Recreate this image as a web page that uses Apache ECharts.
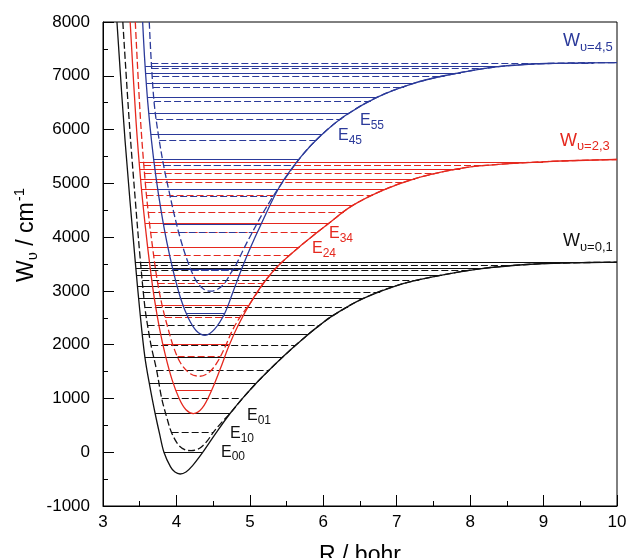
<!DOCTYPE html>
<html><head><meta charset="utf-8">
<script src="https://cdn.jsdelivr.net/npm/echarts@6/dist/echarts.min.js"></script>
<style>html,body{margin:0;padding:0;background:#fff}#c{width:628px;height:558px}</style>
</head><body><div id="c"></div>
<script>
// ---- data: potential curves [R (bohr), W (cm^-1)] ----
const W0 = [[3.19,8000],[3.30,5800],[3.44,3535],[3.50,2650],[3.57,1772],[3.64,1210],[3.71,720],[3.77,345],[3.83,0],[3.92,-272],[3.98,-369],[4.05,-405],[4.13,-367],[4.22,-250],[4.36,0],[4.54,360],[4.73,720],[4.90,1000],[5.07,1260],[5.25,1510],[5.44,1760],[5.6,1960],[5.75,2140],[5.93,2340],[6.13,2540],[6.53,2850],[7.0,3100],[7.49,3260],[8.13,3410],[8.82,3495],[9.4,3522],[10,3535]];
const W1own = [[3.27,8000],[3.36,6100],[3.44,4686],[3.50,3700],[3.57,2702],[3.62,2250],[3.66,1950],[3.73,1525],[3.80,998],[3.87,640],[3.93,378],[4.03,130],[4.12,45],[4.20,30],[4.28,50],[4.34,99],[4.42,210],[4.50,366],[4.62,560]];
const W2 = [[3.37,8000],[3.45,6150],[3.52,4950],[3.58,4150],[3.64,3450],[3.70,2850],[3.77,2300],[3.85,1800],[3.94,1350],[4.04,990],[4.13,790],[4.23,719],[4.35,819],[4.48,1153],[4.60,1560],[4.71,1960],[4.83,2330],[5.0,2760],[5.2,3170],[5.41,3500],[5.72,3870],[6.05,4230],[6.39,4580],[6.8,4865],[7.22,5075],[7.7,5235],[8.13,5325],[9.05,5405],[10,5443]];
const W3own = [[3.44,8000],[3.51,6200],[3.58,4950],[3.63,4300],[3.68,3760],[3.74,3180],[3.81,2700],[3.88,2330],[3.96,1960],[4.06,1650],[4.19,1460],[4.32,1413],[4.44,1480],[4.55,1660],[4.66,1950],[4.76,2260],[4.87,2520]];
const W4 = [[3.54,8000],[3.57,7250],[3.61,6500],[3.66,5800],[3.72,5130],[3.79,4500],[3.87,3900],[3.96,3350],[4.06,2850],[4.16,2500],[4.27,2260],[4.39,2175],[4.52,2290],[4.66,2590],[4.77,2980],[4.88,3380],[5.0,3780],[5.15,4230],[5.41,4950],[5.7,5500],[5.96,5880],[6.3,6260],[6.73,6600],[7.22,6856],[7.68,7010],[8.36,7166],[9.04,7228],[10,7246]];
const W5own = [[3.63,8000],[3.66,7200],[3.70,6450],[3.76,5850],[3.83,5300],[3.90,4850],[3.97,4420],[4.05,3990],[4.15,3560],[4.26,3210],[4.36,3045],[4.46,2994],[4.56,3030],[4.66,3150],[4.74,3330],[4.82,3509],[4.93,3818],[5.05,4130],[5.2,4500]];
// dashed curves join the solid ones on their outer branch
const W1 = W1own.concat(W0.filter(p => p[0] >= 4.73));
const W3 = W3own.concat(W2.filter(p => p[0] >= 5.0));
const W5 = W5own.concat(W4.filter(p => p[0] >= 5.41));

// ---- vibrational levels (cm^-1) ----
const lev0 = [0, 720, 1277, 1772, 2194, 2547, 2857, 3080, 3290, 3415, 3535];
const lev1 = [366, 998, 1525, 1980, 2361, 2702, 2981, 3198, 3384, 3477];
const lev2 = [1153, 2006, 2733, 3291, 3818, 4253, 4593, 4885, 5085, 5270, 5400];
const lev3 = [1785, 2516, 3137, 3663, 4097, 4469, 4779, 5020, 5180, 5330];
const lev4 = [2590, 3400, 4230, 4890, 5443, 5907, 6298, 6600, 6860, 7054, 7170];
const lev5 = [3380, 4097, 4760, 5330, 5801, 6200, 6535, 6794, 7000, 7135, 7240];

const xTicks = [3, 4, 5, 6, 7, 8, 9, 10];
const yTicks = [-1000, 0, 1000, 2000, 3000, 4000, 5000, 6000, 7000, 8000];

const FONT = '"Liberation Sans", Arial, Helvetica, sans-serif';
const BLACK = '#111111', RED = '#E5281E', BLUE = '#2B3A9A';

// annotation texts: [main, subscript, color, left px, cap-centre px, main size, sub size]
const labels = [
  ['W', 'υ=4,5', BLUE, 563, 41.5, 18, 13],
  ['W', 'υ=2,3', RED, 560, 141, 18, 13],
  ['W', 'υ=0,1', BLACK, 563, 241.5, 18, 13],
  ['E', '55', BLUE, 360, 121, 16, 12],
  ['E', '45', BLUE, 338, 136, 16, 12],
  ['E', '34', RED, 329, 234, 16, 12],
  ['E', '24', RED, 312, 249, 16, 12],
  ['E', '01', BLACK, 247, 416, 16, 12],
  ['E', '10', BLACK, 230, 434, 16, 12],
  ['E', '00', BLACK, 221, 452.5, 16, 12]
];

function branchCross(curve, e, side) {
  let im = 0;
  curve.forEach((p, i) => { if (p[1] < curve[im][1]) im = i; });
  if (side < 0) {
    for (let i = 0; i < im; i++) {
      const a = curve[i], b = curve[i + 1];
      if (a[1] >= e && b[1] <= e) return a[0] + (e - a[1]) / (b[1] - a[1]) * (b[0] - a[0]);
    }
    return curve[0][0];
  }
  for (let i = im; i < curve.length - 1; i++) {
    const a = curve[i], b = curve[i + 1];
    if (a[1] <= e && b[1] >= e) return a[0] + (e - a[1]) / (b[1] - a[1]) * (b[0] - a[0]);
  }
  return curve[curve.length - 1][0];
}

const DASH = [7, 3];
function levelSeries(curve, levels, color, dashed) {
  return {
    type: 'lines', coordinateSystem: 'cartesian2d', silent: true, polyline: false,
    lineStyle: { color: color, width: 1, type: dashed ? DASH : 'solid', opacity: 1, curveness: 0 },
    data: levels.map(e => ({ coords: [[branchCross(curve, e, -1), e], [branchCross(curve, e, 1), e]] }))
  };
}
function curveSeries(curve, color, dashed) {
  return {
    type: 'line', data: curve, showSymbol: false, symbol: 'none', smooth: 0.35,
    silent: true, clip: true,
    lineStyle: { color: color, width: 1.3, type: dashed ? DASH : 'solid' }
  };
}

const graphics = labels.map(l => ({
  type: 'text', x: l[3], y: l[4], silent: true,
  style: {
    text: '{m|' + l[0] + '}{s|' + l[1] + '}',
    align: 'left', verticalAlign: 'middle',
    rich: {
      m: { fontSize: l[5], fontFamily: FONT, fill: l[2] },
      s: { fontSize: l[6], fontFamily: FONT, fill: l[2], padding: [l[5] === 18 ? 11 : 9, 0, 0, 0] }
    }
  }
}));
graphics.push({
  type: 'text', x: 27, y: 235, rotation: Math.PI / 2, silent: true,
  style: {
    text: '{m|W}{s|υ}{m| / cm}{p|-1}',
    align: 'center', verticalAlign: 'middle',
    rich: {
      m: { fontSize: 23, fontFamily: FONT, fill: '#000' },
      s: { fontSize: 15, fontFamily: FONT, fill: '#000', padding: [12, 0, 0, 0] },
      p: { fontSize: 15, fontFamily: FONT, fill: '#000', padding: [0, 0, 14, 1] }
    }
  }
});

const chart = echarts.init(document.getElementById('c'));
chart.setOption({
  animation: false,
  backgroundColor: '#fff',
  grid: { left: 103, right: 11, top: 22, bottom: 52, outerBoundsMode: 'none', containLabel: false, show: true, borderColor: '#000', borderWidth: 1, backgroundColor: 'transparent' },
  xAxis: {
    type: 'value', min: xTicks[0], max: xTicks[xTicks.length - 1], interval: 1,
    name: 'R / bohr', nameLocation: 'middle', nameGap: 38,
    nameTextStyle: { fontSize: 23, fontFamily: FONT, color: '#000' },
    axisLine: { show: true, onZero: false, lineStyle: { color: '#000', width: 1 } },
    axisTick: { show: true, inside: true, length: 11, lineStyle: { color: '#000', width: 1 } },
    minorTick: { show: true, splitNumber: 2, length: 5, lineStyle: { color: '#000', width: 1 } },
    axisLabel: { fontSize: 17, fontFamily: FONT, color: '#000', margin: 8, formatter: v => String(v) },
    splitLine: { show: false }, minorSplitLine: { show: false }
  },
  yAxis: {
    type: 'value', min: yTicks[0], max: yTicks[yTicks.length - 1], interval: 1000,
    axisLine: { show: true, onZero: false, lineStyle: { color: '#000', width: 1 } },
    axisTick: { show: true, inside: true, length: 11, lineStyle: { color: '#000', width: 1 } },
    minorTick: { show: true, splitNumber: 2, length: 5, lineStyle: { color: '#000', width: 1 } },
    axisLabel: { fontSize: 17, fontFamily: FONT, color: '#000', margin: 13, formatter: v => String(v) },
    splitLine: { show: false }, minorSplitLine: { show: false }
  },
  graphic: graphics,
  series: [
    levelSeries(W0, lev0, BLACK, false),
    levelSeries(W1, lev1, BLACK, true),
    curveSeries(W0, BLACK, false),
    curveSeries(W1, BLACK, true),
    levelSeries(W2, lev2, RED, false),
    levelSeries(W3, lev3, RED, true),
    curveSeries(W2, RED, false),
    curveSeries(W3, RED, true),
    levelSeries(W4, lev4, BLUE, false),
    levelSeries(W5, lev5, BLUE, true),
    curveSeries(W4, BLUE, false),
    curveSeries(W5, BLUE, true)
  ]
});
</script>
</body></html>
